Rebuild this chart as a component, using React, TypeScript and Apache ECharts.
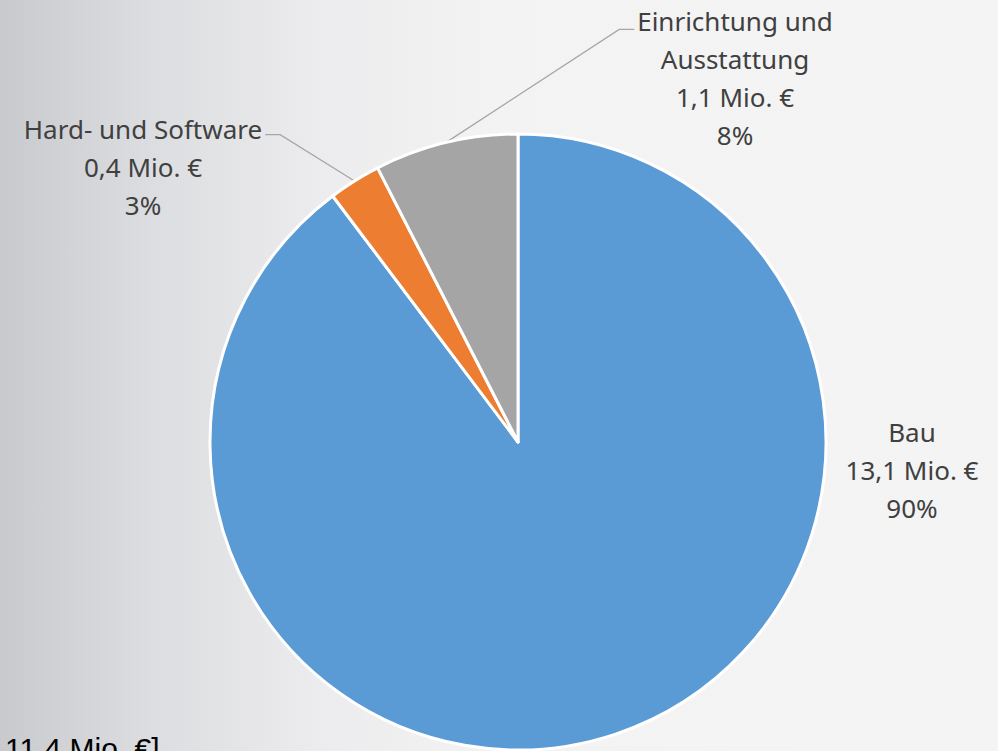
import React, { useEffect, useRef } from "react";
import * as echarts from "echarts";

const categories = ["Bau", "Hard- und Software", "Einrichtung und Ausstattung"];
const values = [13.1, 0.4, 1.1];
const colors = ["#5b9bd5", "#ed7d31", "#a5a5a5"];
const footerText = "11,4 Mio. €]";

// label block positions: [centerX, topY]
const labelPos: [number, number][] = [
  [912, 413],
  [143, 110],
  [735, 2],
];

export default function App() {
  const ref = useRef<HTMLDivElement>(null);
  useEffect(() => {
    document.body.style.margin = "0";
    const chart = echarts.init(ref.current!, undefined, { renderer: "svg" });
    const lh = 38;
    chart.setOption({
      animation: false,
      backgroundColor: new echarts.graphic.LinearGradient(0, 0, 1, 0, [
        { offset: 0, color: "#c9cace" },
        { offset: 0.15, color: "#dcdde0" },
        { offset: 0.32, color: "#ececee" },
        { offset: 0.5, color: "#f3f3f3" },
        { offset: 1, color: "#f4f4f4" },
      ]),
      graphic: [
        {
          type: "text",
          left: 5,
          top: 733,
          style: {
            text: footerText,
            fill: "#000",
            font: "30px 'Liberation Sans', Arial, sans-serif",
          },
        },
      ],
      series: [
        {
          type: "pie",
          center: [518, 442],
          radius: 308,
          startAngle: 90,
          clockwise: true,
          avoidLabelOverlap: false,
          itemStyle: { borderColor: "#ffffff", borderWidth: 3 },
          label: {
            show: true,
            position: "outside",
            color: "#404040",
            fontFamily: "'Noto Sans', sans-serif",
            fontSize: 26,
            lineHeight: lh,
            align: "center",
            formatter: (p: any) => {
              let name: string = p.name;
              if (name.length > 20) {
                const k = name.lastIndexOf(" ");
                name = name.slice(0, k) + "\n" + name.slice(k + 1);
              }
              const v = (p.value as number).toFixed(1).replace(".", ",");
              return `${name}\n${v} Mio. €\n${Math.round(p.percent)}%`;
            },
          },
          labelLine: {
            show: true,
            length: 20,
            length2: 20,
            lineStyle: { color: "#a6a6a6", width: 1.3 },
          },
          labelLayout: (params: any) => {
            const i = params.dataIndex;
            const [cx, top] = labelPos[i];
            const w = params.labelRect.width;
            const res: any = { x: cx, y: top, align: "center", verticalAlign: "top" };
            const p0 = params.labelLinePoints ? params.labelLinePoints[0] : null;
            if (p0) {
              if (i === 2) {
                const ex = cx - w / 2 - 3;
                const ey = top + lh * 0.72;
                res.labelLinePoints = [p0, [ex - 15, ey], [ex, ey]];
              } else if (i === 1) {
                const ex = cx + w / 2 + 3;
                const ey = top + lh * 0.65;
                res.labelLinePoints = [p0, [ex + 15, ey], [ex, ey]];
              }
            }
            return res;
          },
          data: categories.map((c, i) => ({
            name: c,
            value: values[i],
            itemStyle: { color: colors[i] },
            labelLine: { show: i !== 0 },
          })),
        },
      ],
    });
    return () => chart.dispose();
  }, []);
  return <div ref={ref} style={{ width: 998, height: 751 }} />;
}
